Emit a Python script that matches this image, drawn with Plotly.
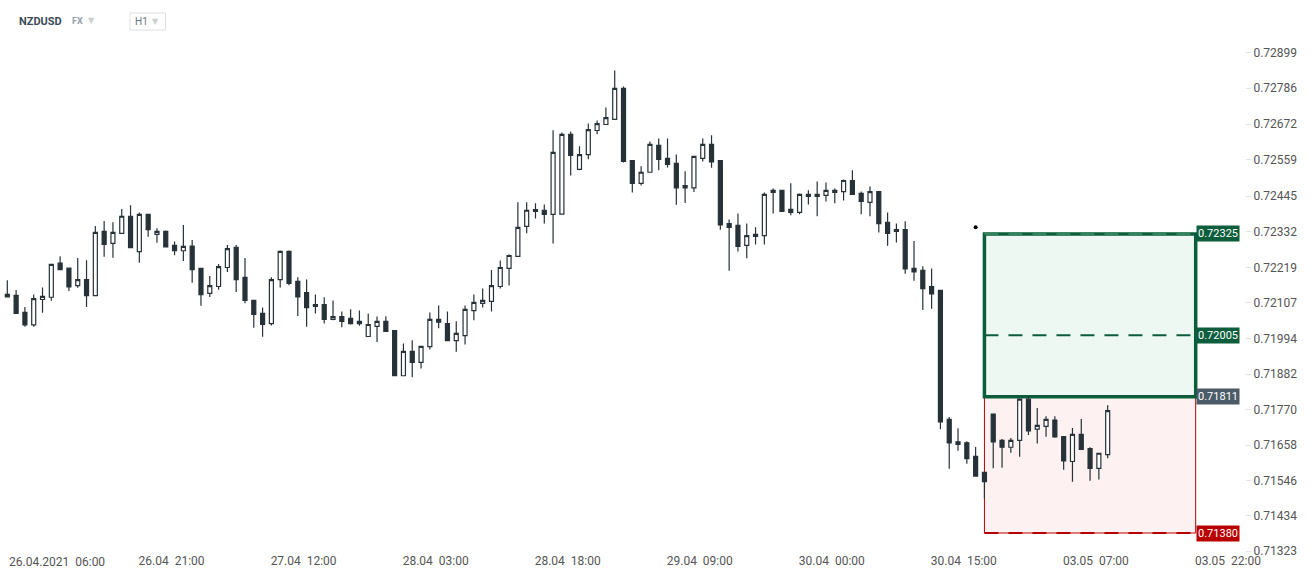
import pandas as pd
import plotly.graph_objects as go

# ---- time axis (H1 candles, weekend gap removed) ----
week1 = pd.date_range("2021-04-26 02:00", "2021-04-30 17:00", freq="h")
week2 = pd.date_range("2021-05-02 19:00", "2021-05-04 00:00", freq="h")
times = [t.strftime("%Y-%m-%d %H:%M") for t in list(week1) + list(week2)]

opens = [0.72134, 0.72131, 0.72077, 0.72038, 0.72118, 0.72125, 0.72233, 0.72217, 0.72162, 0.72181,
         0.72130, 0.72333, 0.72295, 0.72327, 0.72381, 0.72269, 0.72387, 0.72324, 0.72333, 0.72289,
         0.72272, 0.72287, 0.72216, 0.72137, 0.72159, 0.72219, 0.72283, 0.72188, 0.72115, 0.72074,
         0.72042, 0.72181, 0.72270, 0.72175, 0.72140, 0.72096, 0.72102, 0.72055, 0.72064, 0.72058,
         0.72042, 0.72001, 0.72033, 0.72049, 0.72020, 0.71877, 0.71954, 0.71919, 0.71969, 0.72055,
         0.72042, 0.71988, 0.72004, 0.72083, 0.72106, 0.72112, 0.72159, 0.72216, 0.72254, 0.72349,
         0.72396, 0.72400, 0.72387, 0.72388, 0.72640, 0.72529, 0.72576, 0.72652, 0.72671, 0.72687,
         0.72785, 0.72557, 0.72485, 0.72520, 0.72605, 0.72564, 0.72548, 0.72471, 0.72471, 0.72564,
         0.72608, 0.72557, 0.72358, 0.72352, 0.72289, 0.72317, 0.72320, 0.72456, 0.72463, 0.72403,
         0.72393, 0.72450, 0.72444, 0.72447, 0.72456, 0.72459, 0.72494, 0.72453, 0.72425, 0.72459,
         0.72362, 0.72339, 0.72339, 0.72216, 0.72210, 0.72159, 0.72147, 0.71739, 0.71668, 0.71665,
         0.71622, 0.71572, 0.71756, 0.71673, 0.71651, 0.71673, 0.71803, 0.71708, 0.71717, 0.71737,
         0.71685, 0.71606, 0.71692, 0.71647, 0.71584, 0.71628]
highs = [0.72179, 0.72148, 0.72094, 0.72134, 0.72156, 0.72231, 0.72255, 0.72218, 0.72249, 0.72242,
         0.72350, 0.72366, 0.72362, 0.72404, 0.72416, 0.72393, 0.72388, 0.72343, 0.72336, 0.72301,
         0.72353, 0.72306, 0.72217, 0.72192, 0.72230, 0.72290, 0.72290, 0.72249, 0.72116, 0.72093,
         0.72188, 0.72273, 0.72273, 0.72188, 0.72181, 0.72134, 0.72125, 0.72115, 0.72080, 0.72087,
         0.72083, 0.72074, 0.72064, 0.72065, 0.72021, 0.71979, 0.71989, 0.71971, 0.72077, 0.72099,
         0.72080, 0.72049, 0.72099, 0.72134, 0.72153, 0.72211, 0.72241, 0.72260, 0.72425, 0.72425,
         0.72422, 0.72418, 0.72653, 0.72646, 0.72649, 0.72602, 0.72674, 0.72684, 0.72725, 0.72842,
         0.72791, 0.72558, 0.72539, 0.72617, 0.72627, 0.72627, 0.72576, 0.72523, 0.72571, 0.72627,
         0.72637, 0.72558, 0.72371, 0.72390, 0.72358, 0.72346, 0.72456, 0.72469, 0.72464, 0.72485,
         0.72453, 0.72463, 0.72491, 0.72488, 0.72469, 0.72497, 0.72526, 0.72459, 0.72475, 0.72460,
         0.72393, 0.72358, 0.72365, 0.72303, 0.72223, 0.72216, 0.72148, 0.71747, 0.71711, 0.71670,
         0.71652, 0.71573, 0.71757, 0.71677, 0.71680, 0.71806, 0.71813, 0.71775, 0.71749, 0.71749,
         0.71686, 0.71712, 0.71740, 0.71651, 0.71633, 0.71784]
lows = [0.72124, 0.72072, 0.72032, 0.72032, 0.72076, 0.72114, 0.72211, 0.72145, 0.72155, 0.72094,
        0.72129, 0.72253, 0.72250, 0.72326, 0.72281, 0.72234, 0.72316, 0.72297, 0.72283, 0.72258,
        0.72240, 0.72171, 0.72098, 0.72126, 0.72149, 0.72205, 0.72142, 0.72106, 0.72029, 0.72000,
        0.72036, 0.72156, 0.72163, 0.72066, 0.72032, 0.72074, 0.72042, 0.72052, 0.72030, 0.72039,
        0.72035, 0.72000, 0.71984, 0.72016, 0.71876, 0.71876, 0.71872, 0.71900, 0.71960, 0.72027,
        0.71987, 0.71953, 0.71976, 0.72052, 0.72093, 0.72080, 0.72153, 0.72162, 0.72253, 0.72327,
        0.72374, 0.72358, 0.72295, 0.72387, 0.72510, 0.72526, 0.72561, 0.72640, 0.72670, 0.72686,
        0.72551, 0.72456, 0.72478, 0.72519, 0.72526, 0.72535, 0.72417, 0.72423, 0.72458, 0.72554,
        0.72534, 0.72338, 0.72209, 0.72270, 0.72248, 0.72292, 0.72292, 0.72390, 0.72395, 0.72384,
        0.72387, 0.72418, 0.72381, 0.72428, 0.72422, 0.72431, 0.72449, 0.72387, 0.72381, 0.72330,
        0.72288, 0.72298, 0.72199, 0.72177, 0.72085, 0.72089, 0.71708, 0.71583, 0.71640, 0.71599,
        0.71559, 0.71489, 0.71585, 0.71586, 0.71634, 0.71621, 0.71690, 0.71663, 0.71684, 0.71681,
        0.71580, 0.71542, 0.71643, 0.71545, 0.71549, 0.71616]
closes = [0.72126, 0.72074, 0.72038, 0.72121, 0.72128, 0.72229, 0.72212, 0.72158, 0.72181, 0.72130,
          0.72330, 0.72292, 0.72330, 0.72381, 0.72282, 0.72387, 0.72339, 0.72333, 0.72284, 0.72272,
          0.72286, 0.72212, 0.72133, 0.72162, 0.72222, 0.72279, 0.72181, 0.72115, 0.72071, 0.72039,
          0.72181, 0.72270, 0.72169, 0.72126, 0.72092, 0.72102, 0.72055, 0.72064, 0.72049, 0.72042,
          0.72049, 0.72039, 0.72049, 0.72017, 0.71877, 0.71954, 0.71919, 0.71970, 0.72055, 0.72046,
          0.71988, 0.72011, 0.72087, 0.72109, 0.72115, 0.72162, 0.72219, 0.72257, 0.72346, 0.72400,
          0.72402, 0.72387, 0.72583, 0.72640, 0.72573, 0.72576, 0.72655, 0.72674, 0.72693, 0.72785,
          0.72554, 0.72485, 0.72520, 0.72608, 0.72561, 0.72545, 0.72471, 0.72478, 0.72570, 0.72608,
          0.72553, 0.72354, 0.72346, 0.72286, 0.72320, 0.72324, 0.72450, 0.72463, 0.72396, 0.72393,
          0.72450, 0.72444, 0.72450, 0.72463, 0.72463, 0.72494, 0.72450, 0.72428, 0.72459, 0.72358,
          0.72327, 0.72333, 0.72215, 0.72205, 0.72152, 0.72136, 0.71731, 0.71665, 0.71660, 0.71615,
          0.71560, 0.71542, 0.71668, 0.71651, 0.71673, 0.71803, 0.71703, 0.71720, 0.71739, 0.71684,
          0.71608, 0.71692, 0.71644, 0.71584, 0.71632, 0.71767]

# ---- axis ticks ----
x_tick_times = ["2021-04-26 06:00", "2021-04-26 21:00", "2021-04-27 12:00", "2021-04-28 03:00",
                "2021-04-28 18:00", "2021-04-29 09:00", "2021-04-30 00:00", "2021-04-30 15:00",
                "2021-05-03 07:00", "2021-05-03 22:00"]
x_tick_labels = ["26.04.2021  06:00", "26.04  21:00", "27.04  12:00", "28.04  03:00",
                 "28.04  18:00", "29.04  09:00", "30.04  00:00", "30.04  15:00",
                 "03.05  07:00", "03.05  22:00"]
y_ticks = [0.72899, 0.72786, 0.72672, 0.72559, 0.72445, 0.72332, 0.72219, 0.72107,
           0.71994, 0.71882, 0.71770, 0.71658, 0.71546, 0.71434, 0.71323]
y_tick_labels = ["%.5f" % v for v in y_ticks]

# ---- long position tool ----
pos_start = "2021-04-30 17:00"
pos_end = "2021-05-03 18:00"
take_profit = 0.72325
mid_level = 0.72005
entry = 0.71811
stop_loss = 0.71380
marker_time = "2021-04-30 16:00"
marker_price = 0.72346

DARK = "#263238"
GREEN = "#0b5d3b"
RED = "#b80000"

fig = go.Figure()
fig.add_trace(go.Candlestick(
    x=times[:len(opens)], open=opens, high=highs, low=lows, close=closes,
    increasing=dict(line=dict(color=DARK, width=1.2), fillcolor="#ffffff"),
    decreasing=dict(line=dict(color=DARK, width=1.2), fillcolor=DARK),
    whiskerwidth=0, hoverinfo="skip", showlegend=False,
))
fig.add_trace(go.Scatter(x=[marker_time], y=[marker_price], mode="markers",
                         marker=dict(color="#000000", size=4), showlegend=False, hoverinfo="skip"))

shapes = [
    dict(type="rect", xref="x", yref="y", x0=pos_start, x1=pos_end, y0=stop_loss, y1=entry,
         fillcolor="#fdf1f1", line=dict(color=RED, width=1), layer="below"),
    dict(type="rect", xref="x", yref="y", x0=pos_start, x1=pos_end, y0=entry, y1=take_profit,
         fillcolor="#eef8f3", line=dict(color=GREEN, width=3.5), layer="below"),
    dict(type="line", xref="x", yref="y", x0=pos_start, x1=pos_end, y0=mid_level, y1=mid_level,
         line=dict(color=GREEN, width=2, dash="14px,10px"), layer="below"),
    dict(type="line", xref="x", yref="y", x0=pos_start, x1=pos_end, y0=stop_loss, y1=stop_loss,
         line=dict(color=RED, width=2, dash="14px,10px"), layer="below"),
    dict(type="line", xref="x", yref="y", x0=pos_start, x1=pos_end, y0=take_profit, y1=take_profit,
         line=dict(color="#3f8f6b", width=1.5, dash="14px,10px"), layer="below"),
    # timeframe selector box in header
    dict(type="rect", xref="paper", yref="paper", x0=130 / 1245, x1=165.5 / 1245,
         y0=(552 - 30) / 512, y1=(552 - 13) / 512, line=dict(color="#dcdfe2", width=1),
         fillcolor="#ffffff"),
]

annotations = []
for price, bg in [(take_profit, GREEN), (mid_level, GREEN), (entry, "#4b5b67"), (stop_loss, RED)]:
    annotations.append(dict(x=pos_end, y=price, xref="x", yref="y", xanchor="left", yanchor="middle",
                            text="%.5f" % price, showarrow=False, bgcolor=bg, borderpad=1,
                            font=dict(color="#ffffff", size=11, family="Roboto")))
header = [("NZDUSD", 17, 21, dict(size=11, color="#3d4a55", family="Roboto", weight="bold")),
          ("FX", 70, 21, dict(size=9, color="#93a1ad", family="Roboto", weight="bold")),
          ("▼", 86, 20, dict(size=8, color="#c9ced3", family="DejaVu Sans")),
          ("H1", 133, 21, dict(size=10, color="#6b7680", family="Roboto")),
          ("▼", 150, 21, dict(size=8, color="#c9ced3", family="DejaVu Sans"))]
for txt, px, py, f in header:
    annotations.append(dict(x=px / 1245, y=(552 - py) / 512, xref="paper", yref="paper",
                            xanchor="left", yanchor="middle", text=txt, showarrow=False, font=f))

tick_text = [t.replace("  ", "\u00a0\u00a0") for t in x_tick_labels]
# first date label is pushed right so it stays inside the chart (as in the reference)
annotations.append(dict(x=x_tick_times[0], y=-9.5 / 512, xref="x", yref="paper",
                        xanchor="left", yanchor="middle", xshift=-36, text=tick_text[0],
                        showarrow=False, font=dict(size=12, color="#555555", family="Roboto")))

fig.update_layout(
    width=1312, height=577,
    margin=dict(l=0, r=67, t=40, b=25, autoexpand=False),
    paper_bgcolor="#ffffff", plot_bgcolor="#ffffff",
    font=dict(family="Roboto", size=12, color="#555555"),
    showlegend=False, boxgap=0.35,
    shapes=shapes, annotations=annotations,
    xaxis=dict(type="category", categoryorder="array", categoryarray=times,
               range=[-0.83, 140.6], rangeslider=dict(visible=False),
               tickvals=x_tick_times[1:], ticktext=tick_text[1:], ticklabelshift=-3,
               showgrid=False, zeroline=False, showline=False, ticks="",
               tickfont=dict(size=12, color="#555555")),
    yaxis=dict(side="right", range=[0.71320, 0.72938], tickvals=y_ticks, ticktext=y_tick_labels,
               showgrid=False, zeroline=False, showline=False, ticks="outside", ticklen=5,
               tickcolor="#e0e0e0", tickfont=dict(size=12, color="#555555")),
)

fig.write_html("out.html", config={"displayModeBar": False},
               post_script="document.body.style.margin='0';")
